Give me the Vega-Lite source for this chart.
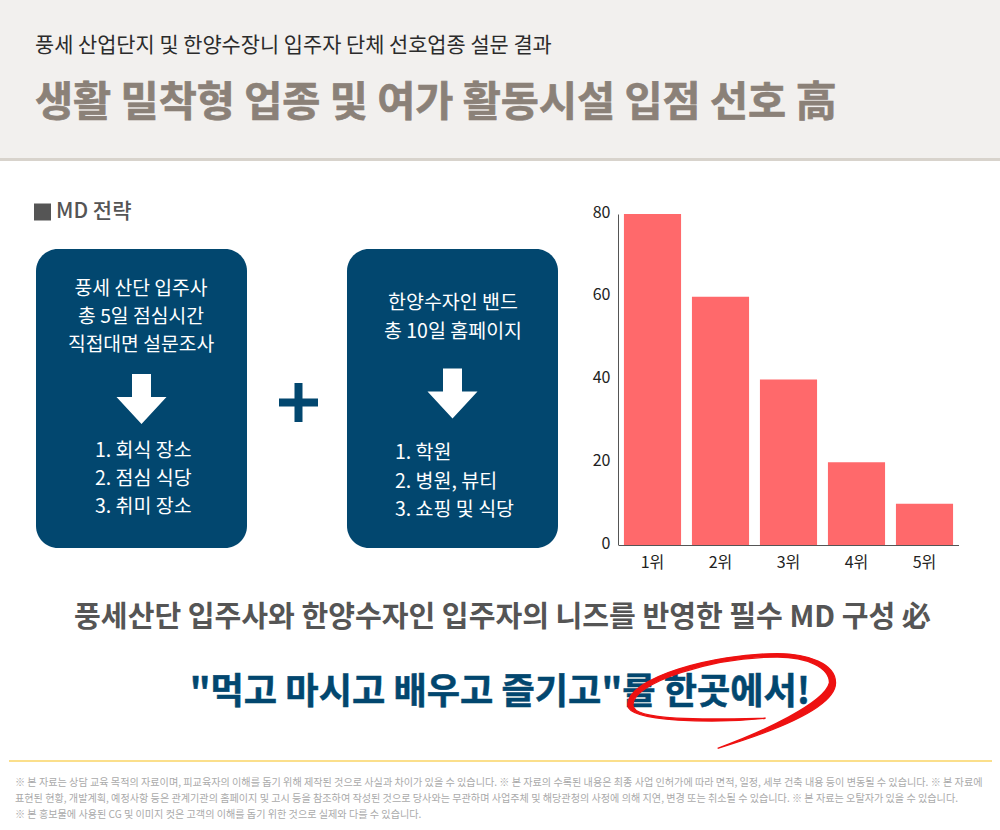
{"$schema":"https://vega.github.io/schema/vega-lite/v6.json","width":1000,"height":830,"padding":0,"autosize":"none","background":"#ffffff","view":{"stroke":null},"config":{"font":"Noto Sans CJK KR","text":{"font":"Noto Sans CJK KR"}},"resolve":{"scale":{"x":"independent","y":"independent"},"axis":{"x":"independent","y":"independent"}},"layer":[
{"data":{"values":[{"part":"band"}]},"mark":{"type":"rect","color":"#f2f0ee"},"encoding":{"x":{"field":"part","type":"nominal","axis":null,"scale":{"type":"band","range":[0,1000],"padding":0}},"y":{"field":"part","type":"nominal","axis":null,"scale":{"type":"band","range":[0,158],"padding":0}}}},
{"data":{"values":[{"part":"rule"}]},"mark":{"type":"rect","color":"#d8d3cc"},"encoding":{"x":{"field":"part","type":"nominal","axis":null,"scale":{"type":"band","range":[0,1000],"padding":0}},"y":{"field":"part","type":"nominal","axis":null,"scale":{"type":"band","range":[158,161],"padding":0}}}},
{"data":{"values":[{"part":"rule"}]},"mark":{"type":"rect","color":"#fbdf8b"},"encoding":{"x":{"field":"part","type":"nominal","axis":null,"scale":{"type":"band","range":[9,992],"padding":0}},"y":{"field":"part","type":"nominal","axis":null,"scale":{"type":"band","range":[760,762],"padding":0}}}},
{"data":{"values":[{"b":"a","line":"풍세 산업단지 및 한양수장니 입주자 단체 선호업종 설문 결과"}]},"mark":{"type":"text","fontSize":20.85,"color":"#2b2b2b","align":"left","baseline":"middle"},"encoding":{"x":{"field":"b","type":"nominal","axis":null,"scale":{"type":"point","range":[35,35],"padding":0}},"y":{"field":"line","type":"nominal","axis":null,"scale":{"type":"point","range":[46,46],"padding":0}},"text":{"field":"line"}}},
{"data":{"values":[{"b":"a","line":"생활 밀착형 업종 및 여가 활동시설 입점 선호 高"}]},"mark":{"type":"text","fontSize":41.4,"fontWeight":"bold","color":"#8b8178","stroke":"#8b8178","strokeWidth":0.7,"align":"left","baseline":"middle"},"encoding":{"x":{"field":"b","type":"nominal","axis":null,"scale":{"type":"point","range":[35,35],"padding":0}},"y":{"field":"line","type":"nominal","axis":null,"scale":{"type":"point","range":[104,104],"padding":0}},"text":{"field":"line"}}},
{"data":{"values":[{"b":"a"}]},"mark":{"type":"point","shape":"square","filled":true,"opacity":1,"color":"#555555","size":289},"encoding":{"x":{"field":"b","type":"nominal","axis":null,"scale":{"type":"point","range":[42.5,42.5],"padding":0}},"y":{"field":"b","type":"nominal","axis":null,"scale":{"type":"point","range":[212,212],"padding":0}}}},
{"data":{"values":[{"b":"a","line":"MD 전략"}]},"mark":{"type":"text","fontSize":21,"fontWeight":500,"color":"#555555","align":"left","baseline":"middle"},"encoding":{"x":{"field":"b","type":"nominal","axis":null,"scale":{"type":"point","range":[56,56],"padding":0}},"y":{"field":"line","type":"nominal","axis":null,"scale":{"type":"point","range":[212,212],"padding":0}},"text":{"field":"line"}}},
{"data":{"values":[{"box":"left","part":"box"},{"box":"right","part":"box"}]},"mark":{"type":"rect","color":"#02476f","cornerRadius":22},"encoding":{"x":{"field":"box","type":"nominal","axis":null,"scale":{"type":"band","range":[36,558],"paddingInner":0.32154,"paddingOuter":0}},"y":{"field":"part","type":"nominal","axis":null,"scale":{"type":"band","range":[249,548],"padding":0}}}},
{"data":{"values":[{"b":"a","line":"풍세 산단 입주사"},{"b":"a","line":"총 5일 점심시간"},{"b":"a","line":"직접대면 설문조사"}]},"mark":{"type":"text","fontSize":19.3,"color":"#ffffff","align":"center","baseline":"middle"},"encoding":{"x":{"field":"b","type":"nominal","axis":null,"scale":{"type":"point","range":[141,141],"padding":0}},"y":{"field":"line","type":"nominal","axis":null,"sort":null,"scale":{"type":"point","range":[289,345],"padding":0}},"text":{"field":"line"}}},
{"data":{"values":[{"b":"a","line":"1. 회식 장소"},{"b":"a","line":"2. 점심 식당"},{"b":"a","line":"3. 취미 장소"}]},"mark":{"type":"text","fontSize":19.5,"color":"#ffffff","align":"left","baseline":"middle"},"encoding":{"x":{"field":"b","type":"nominal","axis":null,"scale":{"type":"point","range":[95,95],"padding":0}},"y":{"field":"line","type":"nominal","axis":null,"sort":null,"scale":{"type":"point","range":[451,507],"padding":0}},"text":{"field":"line"}}},
{"data":{"values":[{"b":"a","line":"한양수자인 밴드"},{"b":"a","line":"총 10일 홈페이지"}]},"mark":{"type":"text","fontSize":19.5,"color":"#ffffff","align":"center","baseline":"middle"},"encoding":{"x":{"field":"b","type":"nominal","axis":null,"scale":{"type":"point","range":[453,453],"padding":0}},"y":{"field":"line","type":"nominal","axis":null,"sort":null,"scale":{"type":"point","range":[303,332],"padding":0}},"text":{"field":"line"}}},
{"data":{"values":[{"b":"a","line":"1. 학원"},{"b":"a","line":"2. 병원, 뷰티"},{"b":"a","line":"3. 쇼핑 및 식당"}]},"mark":{"type":"text","fontSize":19.5,"color":"#ffffff","align":"left","baseline":"middle"},"encoding":{"x":{"field":"b","type":"nominal","axis":null,"scale":{"type":"point","range":[395,395],"padding":0}},"y":{"field":"line","type":"nominal","axis":null,"sort":null,"scale":{"type":"point","range":[453,510],"padding":0}},"text":{"field":"line"}}},
{"data":{"values":[{"arrow":"left"},{"arrow":"right"}]},"mark":{"type":"point","shape":"M -0.38 -1 L 0.38 -1 L 0.38 -0.08 L 1 -0.08 L 0 1 L -1 -0.08 L -0.38 -0.08 Z","filled":true,"opacity":1,"color":"#ffffff","size":2500,"strokeWidth":0},"encoding":{"x":{"field":"arrow","type":"nominal","axis":null,"scale":{"type":"point","range":[141.5,452.5],"padding":0}},"y":{"field":"arrow","type":"nominal","axis":null,"scale":{"type":"point","range":[399,393.5],"padding":0}}}},
{"data":{"values":[{"b":"a"}]},"mark":{"type":"point","shape":"M -0.205 -1 L 0.205 -1 L 0.205 -0.205 L 1 -0.205 L 1 0.205 L 0.205 0.205 L 0.205 1 L -0.205 1 L -0.205 0.205 L -1 0.205 L -1 -0.205 L -0.205 -0.205 Z","filled":true,"opacity":1,"color":"#02476f","size":1521,"strokeWidth":0},"encoding":{"x":{"field":"b","type":"nominal","axis":null,"scale":{"type":"point","range":[298.5,298.5],"padding":0}},"y":{"field":"b","type":"nominal","axis":null,"scale":{"type":"point","range":[402.5,402.5],"padding":0}}}},
{"data":{"values":[{"rank":"1위","value":80},{"rank":"2위","value":60},{"rank":"3위","value":40},{"rank":"4위","value":20},{"rank":"5위","value":10}]},"mark":{"type":"bar","color":"#ff696b"},"encoding":{"x":{"field":"rank","type":"nominal","scale":{"type":"band","range":[618.5,958.5],"paddingInner":0.16,"paddingOuter":0.08},"axis":{"orient":"bottom","offset":-285,"title":null,"labelAngle":0,"ticks":false,"labelPadding":9,"labelFontSize":16,"labelColor":"#222222","domainColor":"#555555","domainWidth":1,"labelFont":"Noto Sans CJK KR"}},"y":{"field":"value","type":"quantitative","scale":{"domain":[0,80],"range":[545,214],"nice":false},"axis":{"orient":"left","offset":-618,"title":null,"values":[0,20,40,60,80],"grid":false,"ticks":false,"labelPadding":8,"labelFontSize":16,"labelColor":"#222222","domainColor":"#555555","domainWidth":1,"labelOffset":-2,"labelFont":"Noto Sans CJK KR"}}}},
{"data":{"values":[{"b":"a","line":"풍세산단 입주사와 한양수자인 입주자의 니즈를 반영한 필수 MD 구성 必"}]},"mark":{"type":"text","fontSize":29.1,"fontWeight":"bold","color":"#555555","align":"center","baseline":"middle"},"encoding":{"x":{"field":"b","type":"nominal","axis":null,"scale":{"type":"point","range":[502.5,502.5],"padding":0}},"y":{"field":"line","type":"nominal","axis":null,"scale":{"type":"point","range":[618,618],"padding":0}},"text":{"field":"line"}}},
{"data":{"values":[{"b":"a","line":"\"먹고 마시고 배우고 즐기고\"를 한곳에서!"}]},"mark":{"type":"text","fontSize":36.2,"fontWeight":"bold","color":"#02476f","stroke":"#02476f","strokeWidth":0.5,"align":"center","baseline":"middle"},"encoding":{"x":{"field":"b","type":"nominal","axis":null,"scale":{"type":"point","range":[500,500],"padding":0}},"y":{"field":"line","type":"nominal","axis":null,"scale":{"type":"point","range":[693,693],"padding":0}},"text":{"field":"line"}}},
{"data":{"values":[{"b":"a"}]},"mark":{"type":"point","shape":"M -0.139 0.46 C 0.374 0.305 1.003 0.073 1.003 -0.175 C 1.003 -0.358 0.738 -0.457 0.44 -0.457 C -0.189 -0.457 -1.01 -0.225 -1.01 0.04 C -1.01 0.205 -0.156 0.222 0.325 0.169 C -0.156 0.179 -0.96 0.205 -0.96 0.04 C -0.96 -0.175 -0.189 -0.424 0.44 -0.424 C 0.722 -0.424 0.944 -0.325 0.944 -0.175 C 0.9 0.02 0.3 0.3 -0.139 0.46 Z","filled":true,"opacity":1,"color":"#ee1111","stroke":"#ee1111","size":42640,"strokeWidth":1.3},"encoding":{"x":{"field":"b","type":"nominal","axis":null,"scale":{"type":"point","range":[732,732],"padding":0}},"y":{"field":"b","type":"nominal","axis":null,"scale":{"type":"point","range":[700.8,700.8],"padding":0}}}},
{"data":{"values":[{"b":"a","line":"※ 본 자료는 상담 교육 목적의 자료이며, 피교육자의 이해를 돕기 위해 제작된 것으로 사실과 차이가 있을 수 있습니다. ※ 본 자료의 수록된 내용은 최종 사업 인허가에 따라 면적, 일정, 세부 건축 내용 등이 변동될 수 있습니다. ※ 본 자료에"},{"b":"a","line":"표현된 현황, 개발계획, 예정사항 등은 관계기관의 홈페이지 및 고시 등을 참조하여 작성된 것으로 당사와는 무관하며 사업주체 및 해당관청의 사정에 의해 지연, 변경 또는 취소될 수 있습니다. ※ 본 자료는 오탈자가 있을 수 있습니다."},{"b":"a","line":"※ 본 홍보물에 사용된  CG 및 이미지 컷은 고객의 이해를 돕기 위한 것으로 실제와 다를 수 있습니다."}]},"mark":{"type":"text","fontSize":10.12,"color":"#aaaaaa","align":"left","baseline":"middle"},"encoding":{"x":{"field":"b","type":"nominal","axis":null,"scale":{"type":"point","range":[15,15],"padding":0}},"y":{"field":"line","type":"nominal","axis":null,"sort":null,"scale":{"type":"point","range":[782.5,814.5],"padding":0}},"text":{"field":"line"}}}
]}
